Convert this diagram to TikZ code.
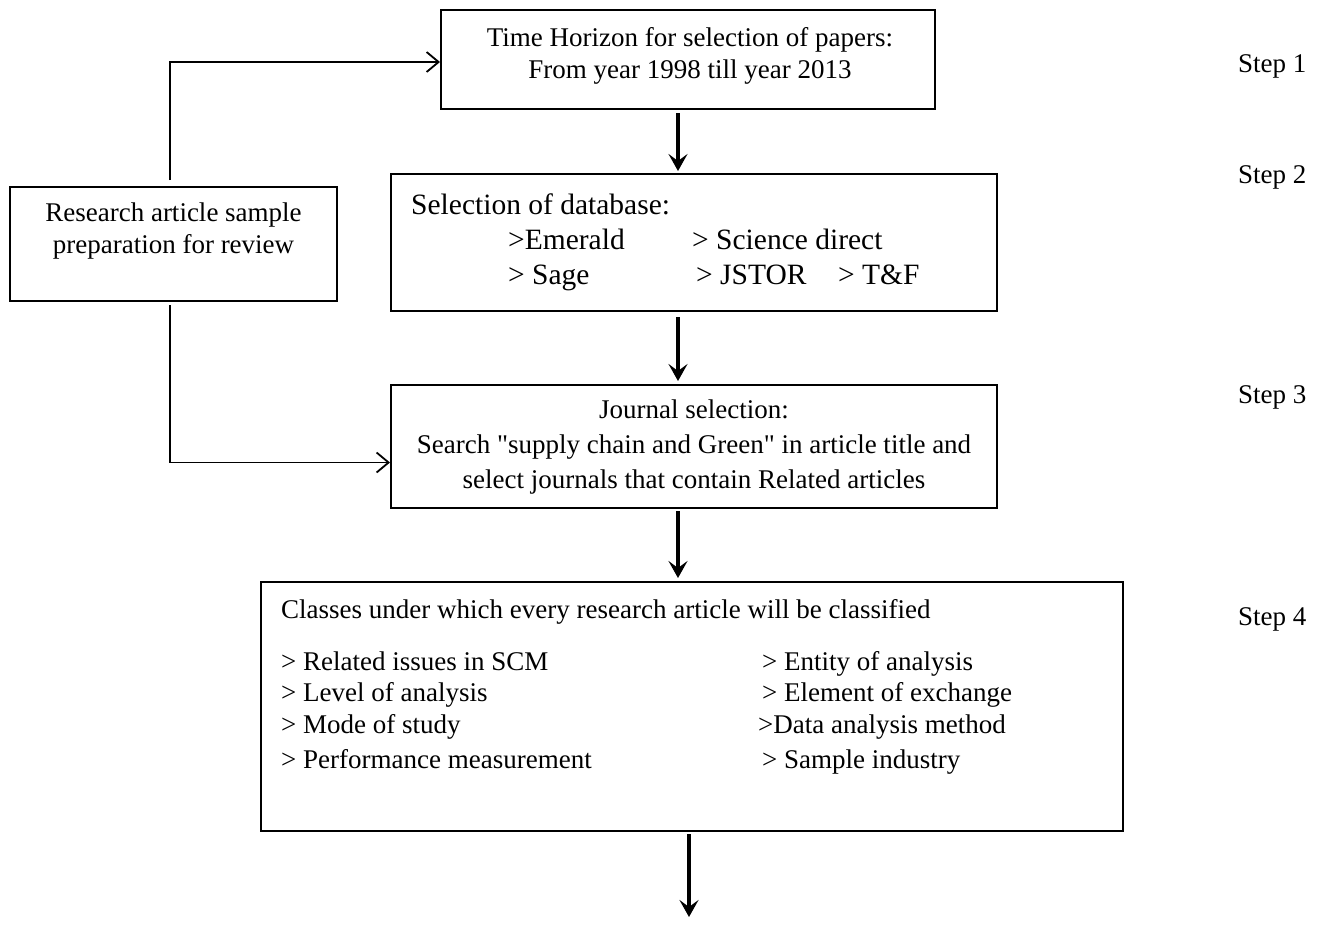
\documentclass[tikz,border=0pt]{standalone}
\usepackage{fontspec}
\newfontfamily\diagfont{Liberation Serif}
\usetikzlibrary{arrows.meta}
\begin{document}
\begin{tikzpicture}[x=1pt,y=-1pt,
  box/.style={draw, line width=2pt, rectangle, inner sep=0pt},
  txt/.style={font=\diagfont\fontsize{27}{32}\selectfont, inner sep=0pt},
  bigtxt/.style={font=\diagfont\fontsize{29.5}{35}\selectfont, inner sep=0pt},
  thickarrow/.style={line width=4pt, -{Stealth[length=17pt,width=19pt,inset=7pt]}},
  thinarrow/.style={line width=1.8pt, -{Straight Barb[length=12pt,width=20pt]}}
]
\useasboundingbox (0,0) rectangle (1320,926);
\fill[white] (0,0) rectangle (1320,926);

% boxes
\node[box, minimum width=494pt, minimum height=99pt] (b1) at (688,59.5) {};
\node[box, minimum width=606pt, minimum height=137pt] (b2) at (694,242.5) {};
\node[box, minimum width=606pt, minimum height=123pt] (b3) at (694,446.5) {};
\node[box, minimum width=862pt, minimum height=249pt] (b4) at (692,706.5) {};
\node[box, minimum width=327pt, minimum height=114pt] (lb) at (173.5,244) {};

% box 1 text
\node[txt, anchor=base] (t1a) at (690,46) {Time Horizon for selection of papers:};
\node[txt, anchor=base] (t1b) at (690,78) {From year 1998 till year 2013};

% box 2 text
\node[bigtxt, anchor=base west] (t2a) at (411,214) {Selection of database:};
\node[bigtxt, anchor=base west] (t2b) at (508,249) {>Emerald};
\node[bigtxt, anchor=base west] (t2c) at (692,249) {> Science direct};
\node[bigtxt, anchor=base west] (t2d) at (508,284) {> Sage};
\node[bigtxt, anchor=base west] (t2e) at (696,284) {> JSTOR};
\node[bigtxt, anchor=base west] (t2f) at (838,284) {> T\&F};

% box 3 text
\node[txt, anchor=base] (t3a) at (694,418) {Journal selection:};
\node[txt, anchor=base] (t3b) at (694,453) {Search "supply chain and Green" in article title and};
\node[txt, anchor=base] (t3c) at (694,488) {select journals that contain Related articles};

% box 4 text
\node[txt, anchor=base west] (t4a) at (281,618) {Classes under which every research article will be classified};
\node[txt, anchor=base west] (t4b) at (281,670) {> Related issues in SCM};
\node[txt, anchor=base west] (t4c) at (281,701) {> Level of analysis};
\node[txt, anchor=base west] (t4d) at (281,733) {> Mode of study};
\node[txt, anchor=base west] (t4e) at (281,768) {> Performance measurement};
\node[txt, anchor=base west] (t4f) at (762,670) {> Entity of analysis};
\node[txt, anchor=base west] (t4g) at (762,701) {> Element of exchange};
\node[txt, anchor=base west] (t4h) at (758,733) {>Data analysis method};
\node[txt, anchor=base west] (t4i) at (762,768) {> Sample industry};

% left box text
\node[txt, anchor=base] (tla) at (173.5,221) {Research article sample};
\node[txt, anchor=base] (tlb) at (173.5,253) {preparation for review};

% step labels
\node[txt, anchor=base west] (s1) at (1238,72) {Step 1};
\node[txt, anchor=base west] (s2) at (1238,183) {Step 2};
\node[txt, anchor=base west] (s3) at (1238,403) {Step 3};
\node[txt, anchor=base west] (s4) at (1238,625) {Step 4};

% thick arrows
\draw[thickarrow] ([xshift=-10pt,yshift=-3pt]b1.south) -- ([xshift=-16pt,yshift=2pt]b2.north);
\draw[thickarrow] ([xshift=-16pt,yshift=-5pt]b2.south) -- ([xshift=-16pt,yshift=3pt]b3.north);
\draw[thickarrow] ([xshift=-16pt,yshift=-2pt]b3.south) -- ([xshift=-14pt,yshift=3pt]b4.north);
\coordinate (end4) at (689,917);
\draw[thickarrow] ([xshift=-3pt,yshift=-2pt]b4.south) -- (end4);

% thin connectors
\coordinate (lt) at (170,180);
\coordinate (lbm) at (170,305);
\draw[thinarrow] (lt) |- (b1.west |- 0,62);
\draw[thinarrow] (lbm) |- ([yshift=-16pt]b3.west);
\end{tikzpicture}
\end{document}
